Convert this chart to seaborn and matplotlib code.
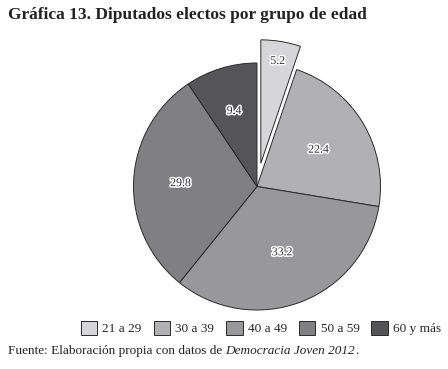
import matplotlib
matplotlib.use("Agg")
import matplotlib.pyplot as plt
import matplotlib.patheffects as pe
import numpy as np
import seaborn as sns

# Data
grupos = ["21 a 29", "30 a 39", "40 a 49", "50 a 59", "60 y más"]
valores = [5.2, 22.4, 33.2, 29.8, 9.4]
grises = ["#d6d6d8", "#b1b1b3", "#98989b", "#808083", "#555557"]
separar = [0.19, 0, 0, 0, 0]
dist_etiqueta = [0.84, 0.58, 0.57, 0.62, 0.64]

sns.set_theme(style="white")
plt.rcParams["font.family"] = ["Liberation Serif", "DejaVu Serif"]
colores = sns.color_palette(grises)

W, H = 448, 369
fig = plt.figure(figsize=(W / 100, H / 100), dpi=100)
fig.patch.set_facecolor("white")

# axes placed in pixels: center (257, 186.5), radius 123.5 px
cx, cy, r, half = 257, 186.5, 123.5, 155
ax = fig.add_axes([(cx - half) / W, (H - cy - half) / H, 2 * half / W, 2 * half / H])
wedges, textos = ax.pie(valores, colors=colores, explode=separar, startangle=90,
                        counterclock=False, labels=[f"{v:.1f}" for v in valores],
                        wedgeprops=dict(edgecolor="#2a2a2a", linewidth=0.7),
                        textprops=dict(fontsize=8.5, color="#333333", ha="center", va="center"))
for w, t, d in zip(wedges, textos, dist_etiqueta):
    ang = np.deg2rad((w.theta1 + w.theta2) / 2)
    x0, y0 = w.center
    t.set_position((x0 + d * np.cos(ang), y0 + d * np.sin(ang)))
    t.set_ha("center")
    t.set_path_effects([pe.withStroke(linewidth=2.2, foreground="white")])
lim = half / r
ax.set_xlim(-lim, lim)
ax.set_ylim(-lim, lim)
ax.set_aspect("equal")
ax.axis("off")

fig.text(8 / W, 1 - 15 / H, "Gráfica 13. Diputados electos por grupo de edad",
         fontsize=12.5, fontweight="bold", va="center", ha="left", color="#222222")

fig.legend(wedges, grupos, ncol=5, loc="center", bbox_to_anchor=(261 / W, 1 - 328 / H),
           frameon=False, fontsize=9.5, handlelength=1.25, handleheight=1.25,
           handletextpad=0.4, columnspacing=0.9, borderaxespad=0)

# source line with italic part
y_f = 1 - 351 / H
t1 = fig.text(8 / W, y_f, "Fuente: Elaboración propia con datos de ", fontsize=9.5,
              va="center", ha="left", color="#222222")
fig.canvas.draw()
x2 = t1.get_window_extent().x1 / W
t2 = fig.text(x2, y_f, "Democracia Joven 2012", fontsize=9.5, style="italic",
              va="center", ha="left", color="#222222")
fig.canvas.draw()
x3 = t2.get_window_extent().x1 / W
fig.text(x3, y_f, ".", fontsize=9.5, va="center", ha="left", color="#222222")

fig.savefig("out.png", dpi=100, facecolor="white")
